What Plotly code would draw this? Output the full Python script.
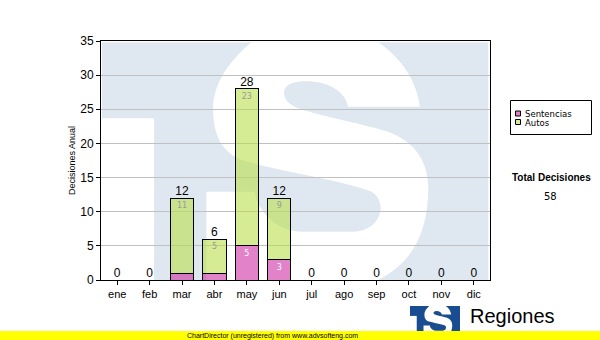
import plotly.graph_objects as go

months = ["ene", "feb", "mar", "abr", "may", "jun", "jul", "ago", "sep", "oct", "nov", "dic"]
sentencias = [0, 0, 1, 1, 5, 3, 0, 0, 0, 0, 0, 0]
autos = [0, 0, 11, 5, 23, 9, 0, 0, 0, 0, 0, 0]
series_names = ["Sentencias", "Autos"]
series_colors = ["rgba(205,40,160,0.58)", "rgba(182,222,70,0.58)"]
swatch_colors = ["#e180c4", "#d6ed96"]
totals = [s + a for s, a in zip(sentencias, autos)]
grand_total = sum(totals)

# plot area in pixels
PL, PR, PT, PB = 101, 490, 41, 280
W, H = 600, 340


def to_paper(px, py):
    return (px - PL) / (PR - PL), (PB - py) / (PB - PT)


# watermark geometry in a local frame, mapped later
S_PATH = [
    ("M", [(760, 215)]),
    ("L", [(975, 215)]),
    ("C", [(965, 140), (925, 75), (850, 22)]),
    ("L", [(470, 22)]),
    ("C", [(400, 80), (355, 150), (355, 220)]),
    ("C", [(355, 300), (380, 350), (440, 375)]),
    ("C", [(560, 410), (760, 440), (830, 470)]),
    ("C", [(880, 500), (860, 585), (780, 590)]),
    ("L", [(620, 590)]),
    ("C", [(540, 585), (490, 530), (480, 470)]),
    ("L", [(335, 470)]),
    ("L", [(335, 735)]),
    ("L", [(850, 735)]),
    ("C", [(960, 680), (1000, 580), (1000, 460)]),
    ("C", [(1000, 380), (960, 320), (880, 290)]),
    ("C", [(760, 255), (640, 235), (600, 215)]),
    ("C", [(555, 195), (555, 145), (610, 140)]),
    ("C", [(690, 132), (750, 165), (760, 215)]),
    ("Z", []),
]
T_GAP = [("M", [(22, 250)]), ("L", [(178, 250)]), ("L", [(178, 735)]), ("L", [(22, 735)]), ("Z", [])]
FRAME = [("M", [(22, 22)]), ("L", [(1180, 22)]), ("L", [(1180, 735)]), ("L", [(22, 735)]), ("Z", [])]


def build(path, x0, y0, x1, y1):
    out = []
    for cmd, pts in path:
        s = cmd
        for zx, zy in pts:
            px = x0 + (zx - 22) / (1180 - 22) * (x1 - x0)
            py = y0 + (zy - 22) / (735 - 22) * (y1 - y0)
            X, Y = to_paper(px, py)
            s += " %.5f,%.5f" % (X, Y)
        out.append(s)
    return " ".join(out)


def prect(x0, y0, x1, y1, **kw):
    a, b = to_paper(x0, y0)
    c, d = to_paper(x1, y1)
    return dict(type="rect", xref="paper", yref="paper", x0=a, x1=c, y0=d, y1=b, **kw)


shapes = []
wm = (102, 42.3, 488.3, 280)
shapes.append(dict(type="path", path=build(FRAME, *wm), xref="paper", yref="paper",
                   fillcolor="#dfe8f1", line=dict(width=0), layer="below"))
for p in (T_GAP, S_PATH):
    shapes.append(dict(type="path", path=build(p, *wm), xref="paper", yref="paper",
                       fillcolor="white", line=dict(width=0), layer="below"))
lg = (410, 306, 460, 337)
shapes.append(dict(type="path", path=build(FRAME, *lg), xref="paper", yref="paper",
                   fillcolor="#1a4c92", line=dict(width=0), layer="above"))
for p in (T_GAP, S_PATH):
    shapes.append(dict(type="path", path=build(p, *lg), xref="paper", yref="paper",
                       fillcolor="white", line=dict(width=0), layer="above"))
shapes.append(prect(-1, 331, 601, 341, fillcolor="#ffff00", line=dict(width=0), layer="above"))

# legend box (drawn manually to match the compact original)
shapes.append(prect(510.5, 100.5, 591.5, 134.5, fillcolor="white",
                    line=dict(color="black", width=1), layer="above"))
leg_rows = [114, 122.5]
for yy, col in zip(leg_rows, swatch_colors):
    shapes.append(prect(515.5, yy - 3, 520.5, yy + 2, fillcolor=col,
                        line=dict(color="black", width=1), layer="above"))

fig = go.Figure()
fig.add_trace(go.Bar(
    name=series_names[0], x=months, y=sentencias,
    marker=dict(color=series_colors[0], line=dict(color="black", width=1)),
    text=[str(v) if v >= 2 else "" for v in sentencias],
    textposition="inside", insidetextanchor="end", textangle=0,
    textfont=dict(color="white", size=8, family="DejaVu Sans"),
    constraintext="none", hoverinfo="skip",
))
fig.add_trace(go.Bar(
    name=series_names[1], x=months, y=autos,
    marker=dict(color=series_colors[1], line=dict(color="black", width=1)),
    text=[str(v) if v >= 2 else "" for v in autos],
    textposition="inside", insidetextanchor="end", textangle=0,
    textfont=dict(color="#9a9a9a", size=8, family="DejaVu Sans"),
    constraintext="none", hoverinfo="skip",
))
fig.add_trace(go.Scatter(
    x=months, y=totals, mode="text", text=[str(t) for t in totals],
    textposition="top center", textfont=dict(size=12, color="black", family="Liberation Sans"),
    showlegend=False, hoverinfo="skip", cliponaxis=False,
))

annotations = [
    dict(text="<b>Total Decisiones</b>", x=to_paper(551, 0)[0], y=to_paper(0, 177.5)[1],
         xref="paper", yref="paper", showarrow=False, xanchor="center", yanchor="middle",
         font=dict(size=10, family="Liberation Sans", color="black")),
    dict(text=str(grand_total), x=to_paper(550, 0)[0], y=to_paper(0, 196.5)[1],
         xref="paper", yref="paper", showarrow=False, xanchor="center", yanchor="middle",
         font=dict(size=10, family="DejaVu Sans", color="black")),
    dict(text="Regiones", x=to_paper(468, 0)[0], y=to_paper(0, 316)[1],
         xref="paper", yref="paper", showarrow=False, xanchor="left", yanchor="middle",
         font=dict(size=20, family="Liberation Sans", color="black")),
    dict(text="ChartDirector (unregistered) from www.advsofteng.com", x=to_paper(272, 0)[0],
         y=to_paper(0, 335.5)[1], xref="paper", yref="paper", showarrow=False,
         xanchor="center", yanchor="middle",
         font=dict(size=7, family="Liberation Sans", color="black")),
]
for yy, name in zip(leg_rows, series_names):
    annotations.append(dict(text=name, x=to_paper(522.5, 0)[0], y=to_paper(0, yy)[1],
                            xref="paper", yref="paper", showarrow=False, xanchor="left",
                            yanchor="middle", font=dict(size=8.5, family="DejaVu Sans", color="black")))

fig.update_layout(
    width=W, height=H, autosize=False,
    margin=dict(l=PL, r=W - PR, t=PT, b=H - PB, pad=0, autoexpand=False),
    paper_bgcolor="white", plot_bgcolor="white",
    barmode="stack", bargap=0.285,
    font=dict(family="Liberation Sans", size=11, color="black"),
    showlegend=False,
    xaxis=dict(range=[-0.5, 11.5], showline=True, mirror=True, linecolor="black", linewidth=1,
               ticks="outside", ticklen=4, tickcolor="black", showgrid=False,
               tickfont=dict(size=11), fixedrange=True),
    yaxis=dict(range=[0, 35], dtick=5, showline=True, mirror=True, linecolor="black", linewidth=1,
               ticks="outside", ticklen=4, tickcolor="black", showgrid=True,
               gridcolor="#c0c0c0", gridwidth=1, zeroline=False,
               tickfont=dict(size=12),
               title=dict(text="Decisiones Anual", font=dict(size=9), standoff=3),
               fixedrange=True),
    shapes=shapes, annotations=annotations,
)

fig.write_html("out.html")
